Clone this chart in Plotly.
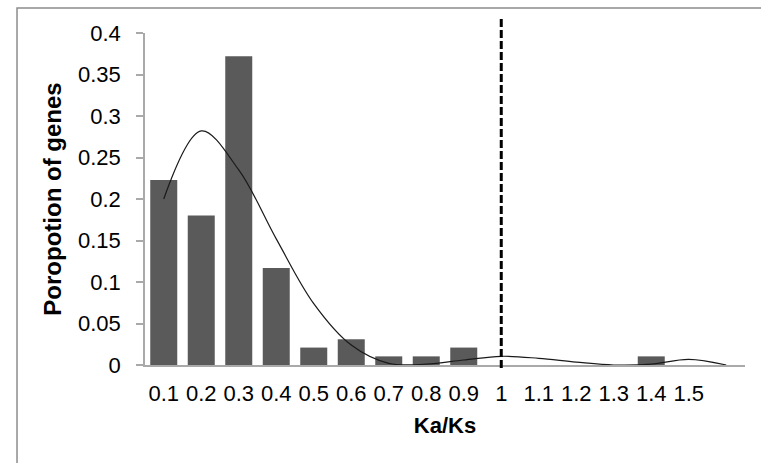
import plotly.graph_objects as go

# ---- data ----
ka_ks = [0.1, 0.2, 0.3, 0.4, 0.5, 0.6, 0.7, 0.8, 0.9, 1.0, 1.1, 1.2, 1.3, 1.4, 1.5]
tick_labels = ["0.1", "0.2", "0.3", "0.4", "0.5", "0.6", "0.7", "0.8", "0.9", "1",
               "1.1", "1.2", "1.3", "1.4", "1.5"]
proportion = [0.223, 0.180, 0.372, 0.117, 0.021, 0.031, 0.0104, 0.0104, 0.021,
              0.0, 0.0, 0.0, 0.0, 0.0104, 0.0]

curve_x = [0.1, 0.2, 0.3, 0.4, 0.5, 0.6, 0.7, 0.8, 0.9, 1.0, 1.1, 1.2, 1.3, 1.4, 1.5, 1.6]
curve_y = [0.200, 0.282, 0.235, 0.152, 0.074, 0.024, 0.002, 0.001, 0.006, 0.0105,
           0.008, 0.0035, 0.0, 0.001, 0.0068, 0.0]

y_ticks = [0, 0.05, 0.1, 0.15, 0.2, 0.25, 0.3, 0.35, 0.4]
y_tick_labels = ["0", "0.05", "0.1", "0.15", "0.2", "0.25", "0.3", "0.35", "0.4"]
threshold = 1.0

FONT = "Liberation Sans, Arial, sans-serif"
AXIS_COLOR = "#a9a9a9"

fig = go.Figure()
fig.add_trace(go.Bar(
    x=ka_ks, y=proportion, width=0.072,
    marker=dict(color="#5a5a5a", line=dict(width=0)),
    showlegend=False, hoverinfo="x+y",
))
fig.add_trace(go.Scatter(
    x=curve_x, y=curve_y, mode="lines",
    line=dict(color="#1a1a1a", width=1.2, shape="spline", smoothing=1.0),
    showlegend=False,
))

# dashed reference line at Ka/Ks = 1
fig.add_shape(type="line", xref="x", yref="paper",
              x0=threshold, x1=threshold, y0=-0.009, y1=1.045,
              line=dict(color="black", width=3, dash="8px,3px"))

# chart-area border (partly outside the visible page, as in the source)
fig.add_shape(type="rect", xref="paper", yref="paper",
              x0=-0.2133, x1=1.2, y0=-0.6, y1=1.0753,
              line=dict(color="#8c8c8c", width=1.5), fillcolor="rgba(0,0,0,0)",
              layer="below")

fig.update_layout(
    width=761, height=463,
    margin=dict(l=145, r=16, t=33, b=98, autoexpand=False),
    paper_bgcolor="white", plot_bgcolor="white",
    font=dict(family=FONT, color="black", size=22),
    xaxis=dict(
        range=[0.05, 1.65], tickmode="array", tickvals=ka_ks, ticktext=tick_labels,
        tickangle=0, showgrid=False, zeroline=False,
        showline=True, linecolor=AXIS_COLOR, linewidth=1.5,
        ticks="", ticklabelstandoff=8,
        tickfont=dict(family=FONT, size=22, color="black"),
        title=dict(text="<b>Ka/Ks</b>", font=dict(family=FONT, size=22, color="black"),
                   standoff=12),
        automargin=False,
    ),
    yaxis=dict(
        range=[0, 0.4], tickmode="array", tickvals=y_ticks, ticktext=y_tick_labels,
        showgrid=False, zeroline=False,
        showline=True, linecolor=AXIS_COLOR, linewidth=1.5,
        ticks="outside", ticklen=7, tickwidth=1.5, tickcolor=AXIS_COLOR,
        ticklabelstandoff=11,
        tickfont=dict(family=FONT, size=22, color="black"),
        title=dict(text="<b>Poropotion of genes</b>",
                   font=dict(family=FONT, size=24, color="black"), standoff=10),
        automargin=False,
    ),
    bargap=0.28,
)

fig.write_html("out.html")
